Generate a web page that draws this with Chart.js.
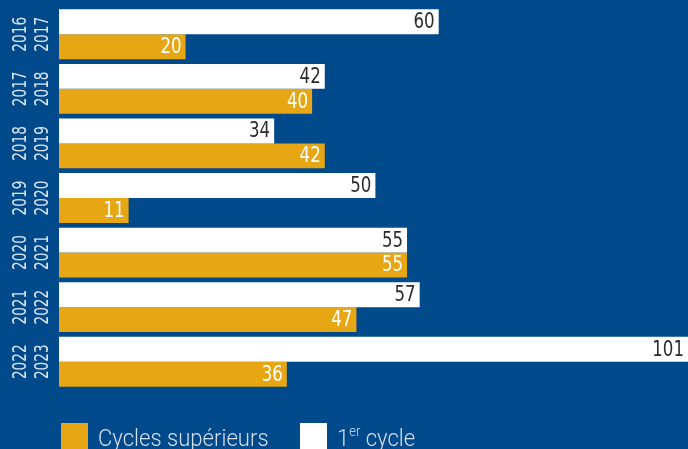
<!DOCTYPE html>
<html lang="fr">
<head>
<meta charset="utf-8">
<script src="https://cdn.jsdelivr.net/npm/chart.js@4/dist/chart.umd.min.js"></script>
<style>
  html, body { margin: 0; padding: 0; background: #004a8c; overflow: hidden; }
  .wrap { position: relative; width: 688px; height: 449px; }
  canvas { position: absolute; left: 0; top: 0; }
  .legend .item { position: absolute; top: 423px; white-space: nowrap; }
  .legend .box { position: absolute; left: 0; top: 0; width: 27px; height: 30px; }
  .legend .txt {
    position: absolute; left: 37px; top: 0; line-height: 30px;
    font-family: Roboto, "DejaVu Sans", sans-serif; font-weight: 300;
    font-size: 24px; color: #d3dfed;
    transform: scaleX(0.92); transform-origin: left center;
  }
  .legend sup { font-size: 14px; vertical-align: 10px; line-height: 0; }
</style>
</head>
<body>
<div class="wrap">
  <canvas id="chart" width="688" height="449"></canvas>
  <div class="legend" id="legend"></div>
</div>
<script>
const years = [
  ['2016', '2017'],
  ['2017', '2018'],
  ['2018', '2019'],
  ['2019', '2020'],
  ['2020', '2021'],
  ['2021', '2022'],
  ['2022', '2023'],
];
const premierCycle = [60, 42, 34, 50, 55, 57, 101];
const cyclesSuperieurs = [20, 40, 42, 11, 55, 47, 36];

const ORANGE = '#e7a614';
const WHITE = '#ffffff';
const FONT = '"DejaVu Sans Condensed", "DejaVu Sans", sans-serif';

// text squeezed horizontally, the fonts at hand are wider than the layout wants
function narrowText(ctx, text, x, y, sx) {
  ctx.save();
  ctx.translate(x, y);
  ctx.scale(sx, 1);
  ctx.fillText(text, 0, 0);
  ctx.restore();
}

// values written at the end of each bar, inside it
const barValues = {
  id: 'barValues',
  afterDatasetsDraw(chart) {
    const ctx = chart.ctx;
    const area = chart.chartArea;
    ctx.save();
    ctx.font = '21px ' + FONT;
    ctx.textAlign = 'right';
    ctx.textBaseline = 'middle';
    chart.data.datasets.forEach((ds, i) => {
      chart.getDatasetMeta(i).data.forEach((bar, j) => {
        const x = Math.min(bar.x, area.right) - 4;
        ctx.fillStyle = i === 0 ? '#2b2b2b' : '#ffffff';
        narrowText(ctx, String(ds.data[j]), x, bar.y + 1, 0.88);
      });
    });
    ctx.restore();
  }
};

// rotated two-line year labels on the left
const yearLabels = {
  id: 'yearLabels',
  afterDraw(chart) {
    const ctx = chart.ctx;
    const y = chart.scales.y;
    ctx.save();
    ctx.font = '19px ' + FONT;
    ctx.fillStyle = '#dbe5f0';
    ctx.textAlign = 'center';
    ctx.textBaseline = 'middle';
    years.forEach((pair, i) => {
      const py = y.getPixelForValue(i);
      ctx.save();
      ctx.translate(32.5, py);
      ctx.rotate(-Math.PI / 2);
      narrowText(ctx, pair[0], 0, -11, 0.8);
      narrowText(ctx, pair[1], 0, 11, 0.8);
      ctx.restore();
    });
    ctx.restore();
  }
};

new Chart(document.getElementById('chart'), {
  type: 'bar',
  data: {
    labels: years,
    datasets: [
      { label: '1er cycle', data: premierCycle, backgroundColor: WHITE },
      { label: 'Cycles supérieurs', data: cyclesSuperieurs, backgroundColor: ORANGE },
    ],
  },
  options: {
    indexAxis: 'y',
    responsive: false,
    animation: false,
    categoryPercentage: 0.914,
    barPercentage: 1,
    layout: { padding: { left: 59, right: 0, top: 7, bottom: 60 } },
    scales: {
      x: { display: false, min: 0, max: 99.4 },
      y: { display: false },
    },
    plugins: {
      legend: { display: false },
      tooltip: { enabled: false },
    },
  },
  plugins: [barValues, yearLabels],
});

document.getElementById('legend').innerHTML =
  '<div class="item" style="left:61px"><span class="box" style="background:' + ORANGE + '"></span>' +
  '<span class="txt">Cycles supérieurs</span></div>' +
  '<div class="item" style="left:300px"><span class="box" style="background:' + WHITE + '"></span>' +
  '<span class="txt">1<sup>er</sup> cycle</span></div>';
</script>
</body>
</html>
